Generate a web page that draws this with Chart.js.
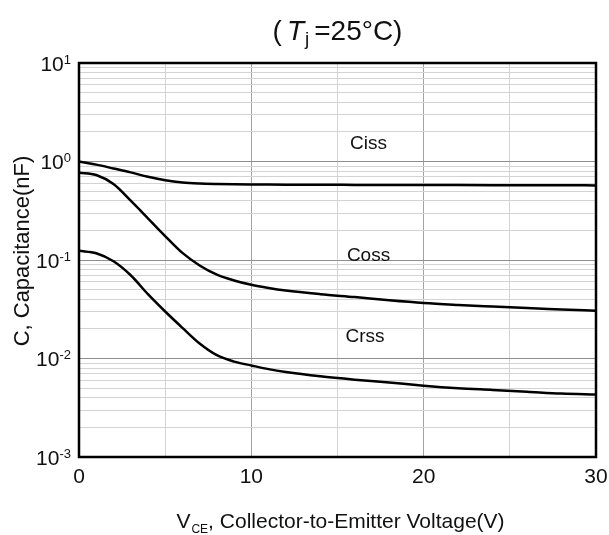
<!DOCTYPE html>
<html>
<head>
<meta charset="utf-8">
<script src="https://cdn.jsdelivr.net/npm/chart.js@4.4.1/dist/chart.umd.min.js"></script>
<style>
  html, body { margin: 0; padding: 0; background: #fff; }
</style>
</head>
<body>
<canvas id="capChart" width="609" height="535"></canvas>
<script>
// collector-emitter voltage (V)
const voltage = [0, 1, 2, 3, 4, 5, 6, 7, 8, 9, 10, 11, 12, 14, 16, 18, 20, 22, 24, 26, 28, 30];
// capacitances (nF)
const ciss = [1.0, 0.93, 0.85, 0.775, 0.70, 0.645, 0.612, 0.597, 0.59, 0.586, 0.584, 0.583, 0.582, 0.58, 0.579, 0.578, 0.577, 0.576, 0.575, 0.574, 0.573, 0.572];
const coss = [0.77, 0.73, 0.59, 0.40, 0.265, 0.175, 0.118, 0.088, 0.071, 0.062, 0.056, 0.052, 0.049, 0.045, 0.042, 0.039, 0.0366, 0.035, 0.0337, 0.0325, 0.0315, 0.0305];
const crss = [0.124, 0.117, 0.097, 0.070, 0.045, 0.030, 0.0205, 0.0142, 0.0108, 0.0093, 0.0085, 0.0078, 0.0073, 0.0066, 0.0061, 0.0057, 0.0053, 0.0050, 0.0048, 0.0046, 0.0044, 0.0043];
const seriesNames = ['Ciss', 'Coss', 'Crss'];
const xTickLabels = [0, 10, 20, 30];
const yTickExponents = [1, 0, -1, -2, -3];

const FONT = '"Liberation Sans", Arial, sans-serif';
const isDecade = v => Math.abs(Math.log10(v) - Math.round(Math.log10(v))) < 1e-9;

function toPoints(ys) {
  return voltage.map((v, i) => ({ x: v, y: ys[i] }));
}

// name tags placed in data coordinates
const nameSpots = { Ciss: [16.8, 1.5], Coss: [16.8, 0.11], Crss: [16.6, 0.0166] };

function drawPieces(ctx, pieces, cx, baseY) {
  let total = 0;
  pieces.forEach(p => { ctx.font = p.font; p.w = ctx.measureText(p.text).width + (p.gap || 0); total += p.w; });
  let x = cx - total / 2;
  ctx.textAlign = 'left';
  ctx.textBaseline = 'alphabetic';
  pieces.forEach(p => {
    ctx.font = p.font;
    ctx.fillText(p.text, x, baseY + (p.dy || 0));
    x += p.w;
  });
}

const decorations = {
  id: 'decorations',
  afterDraw(chart) {
    const { ctx, chartArea: a, scales: { x, y } } = chart;
    ctx.save();

    // frame
    ctx.strokeStyle = '#000';
    ctx.lineWidth = 2.5;
    ctx.strokeRect(a.left, a.top, a.right - a.left, a.bottom - a.top);

    ctx.fillStyle = '#111';

    // y tick labels 10^n
    yTickExponents.forEach(e => {
      const py = y.getPixelForValue(Math.pow(10, e));
      const exp = String(e);
      ctx.font = '13px ' + FONT;
      const ew = ctx.measureText(exp).width;
      ctx.font = '21px ' + FONT;
      const bw = ctx.measureText('10').width;
      const right = a.left - 8;
      ctx.textAlign = 'left';
      ctx.textBaseline = 'alphabetic';
      ctx.fillText('10', right - ew - bw, py + 7.5);
      ctx.font = '13px ' + FONT;
      ctx.fillText(exp, right - ew, py + 0.5);
    });

    // curve names
    ctx.font = '19px ' + FONT;
    ctx.textAlign = 'center';
    ctx.textBaseline = 'middle';
    seriesNames.forEach(n => {
      const [vx, vy] = nameSpots[n];
      ctx.fillText(n, x.getPixelForValue(vx), y.getPixelForValue(vy));
    });

    const midX = (a.left + a.right) / 2;

    // heading
    drawPieces(ctx, [
      { text: '(', font: '28px ' + FONT, gap: 5 },
      { text: 'T', font: 'italic 28px ' + FONT, gap: 1 },
      { text: 'j', font: '19px ' + FONT, dy: 5, gap: 5 },
      { text: '=25°C)', font: '28px ' + FONT }
    ], midX, 40);

    // x axis title
    drawPieces(ctx, [
      { text: 'V', font: '21px ' + FONT, gap: 1 },
      { text: 'CE', font: '12px ' + FONT, dy: 5 },
      { text: ', Collector-to-Emitter Voltage(V)', font: '21px ' + FONT }
    ], midX + 3, 528);

    // y axis title
    ctx.translate(23, 251);
    ctx.rotate(-Math.PI / 2);
    ctx.font = '22px ' + FONT;
    ctx.textAlign = 'center';
    ctx.textBaseline = 'middle';
    ctx.fillText('C, Capacitance(nF)', 0, 0);

    ctx.restore();
  }
};

const lineStyle = {
  borderColor: '#000',
  borderWidth: 2.5,
  pointRadius: 0,
  fill: false,
  cubicInterpolationMode: 'monotone'
};

new Chart(document.getElementById('capChart').getContext('2d'), {
  type: 'line',
  data: {
    datasets: [
      { label: seriesNames[0], data: toPoints(ciss), ...lineStyle },
      { label: seriesNames[1], data: toPoints(coss), ...lineStyle },
      { label: seriesNames[2], data: toPoints(crss), ...lineStyle }
    ]
  },
  options: {
    responsive: false,
    animation: false,
    devicePixelRatio: 1,
    layout: { padding: { top: 63, right: 13, left: 0, bottom: 0 } },
    plugins: {
      legend: { display: false },
      title: { display: false },
      tooltip: { enabled: false }
    },
    scales: {
      x: {
        type: 'linear',
        min: 0,
        max: 30,
        afterFit: s => { s.height = 78; s.paddingLeft = 0; s.paddingRight = 0; },
        border: { display: false },
        grid: {
          drawTicks: false,
          color: c => (c.tick && c.tick.value % 10 === 0) ? '#a2a2a2' : '#d3d3d3',
          lineWidth: 1
        },
        ticks: {
          stepSize: 5,
          autoSkip: false,
          maxRotation: 0,
          padding: 8,
          color: '#111',
          font: { family: FONT, size: 21 },
          callback: v => xTickLabels.includes(v) ? String(v) : ''
        }
      },
      y: {
        type: 'logarithmic',
        min: 0.001,
        max: 10,
        afterFit: s => { s.width = 79; s.paddingTop = 0; s.paddingBottom = 0; },
        afterBuildTicks: s => {
          const t = [];
          for (let e = -3; e < 1; e++) {
            for (let m = 1; m < 10; m++) t.push({ value: m * Math.pow(10, e) });
          }
          t.push({ value: 10 });
          s.ticks = t;
        },
        border: { display: false },
        grid: {
          drawTicks: false,
          color: c => (c.tick && isDecade(c.tick.value)) ? '#8e8e8e' : '#d3d3d3',
          lineWidth: 1
        },
        ticks: { display: false }
      }
    }
  },
  plugins: [decorations]
});
</script>
</body>
</html>
